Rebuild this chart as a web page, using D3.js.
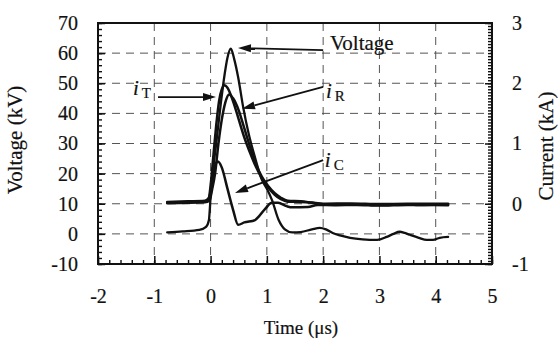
<!DOCTYPE html>
<html>
<head>
<meta charset="utf-8">
<script src="https://cdn.jsdelivr.net/npm/d3@7"></script>
<style>
  html, body { margin: 0; padding: 0; background: #fff; }
  svg { display: block; }
  text { font-family: "Liberation Serif", "Times New Roman", serif; fill: #111; stroke: #111; stroke-width: 0.2px; }
</style>
</head>
<body>
<svg id="chart" width="558" height="354"></svg>
<script>
// ---------------- data ----------------
const xTicks = [-2, -1, 0, 1, 2, 3, 4, 5];
const yTicksLeft = [-10, 0, 10, 20, 30, 40, 50, 60, 70];
const yTicksRight = [-1, 0, 1, 2, 3];
const xGrid = [-1, 0, 1, 2, 3, 4];
const yGrid = [0, 10, 20, 30, 40, 50, 60];

// Voltage [time (us), kV]
const voltage = [
  [-0.77, 0.5], [-0.5, 0.8], [-0.2, 1.3], [-0.08, 2.3], [-0.03, 4.5], [0.0, 12],
  [0.05, 22], [0.1, 30], [0.18, 43], [0.25, 53], [0.3, 58.5], [0.36, 61.5],
  [0.42, 58], [0.49, 52], [0.58, 42], [0.68, 33], [0.78, 26], [0.91, 18],
  [1.0, 15], [1.09, 11.3], [1.21, 4.6], [1.32, 1.5], [1.45, 0.5], [1.6, 0.6],
  [1.8, 1.5], [1.94, 2], [2.05, 1.5], [2.17, 0.3], [2.3, -0.5], [2.48, -1.3],
  [2.7, -1.8], [2.96, -2], [3.13, -1], [3.25, 0], [3.36, 0.7], [3.45, 0.3],
  [3.54, -0.3], [3.7, -1.3], [3.84, -2], [3.95, -2], [4.07, -1.3], [4.22, -1]
];
// Total current iT [time (us), kA]
const currentT = [
  [-0.77, 0.03], [-0.4, 0.04], [-0.1, 0.05], [-0.03, 0.10], [0.0, 0.30],
  [0.05, 0.80], [0.1, 1.30], [0.15, 1.70], [0.2, 1.90], [0.25, 1.965],
  [0.3, 1.925], [0.4, 1.70], [0.5, 1.40], [0.6, 1.10], [0.7, 0.85],
  [0.8, 0.625], [0.91, 0.425], [1.02, 0.275], [1.14, 0.15], [1.25, 0.075],
  [1.37, 0.035], [1.6, 0.03], [1.8, 0.015], [2.0, -0.01], [2.3, -0.015],
  [2.6, -0.01], [3.0, -0.02], [3.4, -0.01], [3.8, -0.02], [4.22, -0.01]
];
// Resistive current iR [time (us), kA]
const currentR = [
  [-0.77, 0.01], [-0.1, 0.025], [-0.02, 0.05], [0.03, 0.25], [0.08, 0.50],
  [0.14, 1.00], [0.2, 1.40], [0.26, 1.675], [0.33, 1.815], [0.4, 1.75],
  [0.5, 1.55], [0.6, 1.25], [0.7, 0.95], [0.8, 0.675], [0.91, 0.45],
  [1.02, 0.30], [1.14, 0.175], [1.25, 0.10], [1.37, 0.05], [1.6, 0.04],
  [1.8, 0.02], [2.0, 0.0], [2.5, 0.005], [3.0, -0.005], [3.5, 0.0], [4.22, 0.0]
];
// Capacitive current iC [time (us), kA]
const currentC = [
  [-0.77, 0.02], [-0.05, 0.04], [0.0, 0.20], [0.05, 0.50], [0.1, 0.675],
  [0.13, 0.70], [0.2, 0.60], [0.3, 0.25], [0.4, -0.10], [0.49, -0.35],
  [0.6, -0.31], [0.79, -0.27], [0.97, -0.085], [1.09, 0.015], [1.2, 0.015],
  [1.35, -0.04], [1.45, -0.06], [1.73, -0.055], [1.9, -0.02], [2.2, -0.025],
  [2.6, -0.02], [3.0, -0.03], [3.5, -0.02], [4.22, -0.025]
];

// annotations: label anchor and arrow (from -> to) in data units (time, kV)
const annotations = [
  { main: "Voltage", sub: "", label: [2.12, 61], from: [2.0, 61.0], to: [0.487, 61.7] },
  { main: "i", sub: "T", label: [-1.38, 46.1], from: [-0.934, 45.4], to: [0.096, 45.4] },
  { main: "i", sub: "R", label: [2.05, 45.1], from: [2.0, 48.8], to: [0.558, 41.5] },
  { main: "i", sub: "C", label: [2.03, 22.2], from: [2.0, 24.5], to: [0.434, 13.6] }
];

// ---------------- layout ----------------
const svg = d3.select("#chart");
const L = 98, R = 492, T = 23, B = 264;
const x = d3.scaleLinear().domain([-2, 5]).range([L, R]);
const y = d3.scaleLinear().domain([-10, 70]).range([B, T]);
const yR = d3.scaleLinear().domain([-1, 3]).range([B, T]);

// grid
const grid = svg.append("g").attr("stroke", "#555").attr("stroke-width", 1)
  .attr("stroke-dasharray", "8,6").attr("fill", "none");
grid.selectAll("line.v").data(xGrid).join("line")
  .attr("x1", d => x(d)).attr("x2", d => x(d)).attr("y1", T).attr("y2", B);
grid.selectAll("line.h").data(yGrid).join("line")
  .attr("x1", L).attr("x2", R).attr("y1", d => y(d)).attr("y2", d => y(d));

// minor ticks
function minor(axis, scale, vals, pos) {
  const g = svg.append("g").attr("transform", pos)
    .call(axis(scale).tickValues(vals).tickSizeInner(-4).tickSizeOuter(0).tickFormat(""));
  g.select(".domain").remove();
  g.selectAll("line").attr("stroke", "#111").attr("stroke-width", 1.4);
}
minor(d3.axisLeft, y, d3.range(-10, 70.01, 2), `translate(${L},0)`);
minor(d3.axisBottom, x, d3.range(-2, 5.001, 0.2), `translate(0,${B})`);
minor(d3.axisRight, yR, d3.range(-1, 3.001, 0.05), `translate(${R},0)`);

// major axes
const fs = "20px";
const gl = svg.append("g").attr("transform", `translate(${L},0)`)
  .call(d3.axisLeft(y).tickValues(yTicksLeft).tickSizeInner(-7).tickSizeOuter(0).tickPadding(20).tickFormat(d3.format("d")));
const gb = svg.append("g").attr("transform", `translate(0,${B})`)
  .call(d3.axisBottom(x).tickValues(xTicks).tickSizeInner(-8).tickSizeOuter(0).tickPadding(25).tickFormat(d3.format("d")));
const gr = svg.append("g").attr("transform", `translate(${R},0)`)
  .call(d3.axisRight(yR).tickValues(yTicksRight).tickSizeInner(-7).tickSizeOuter(0).tickPadding(20).tickFormat(d3.format("d")));
[gl, gb, gr].forEach(g => {
  g.select(".domain").remove();
  g.selectAll("line").attr("stroke", "#111").attr("stroke-width", 1.5);
  g.selectAll("text").attr("font-size", fs).attr("font-family", "Liberation Serif").attr("fill", "#111")
    .text(function () { return d3.select(this).text().replace("−", "-"); });
});

// frame
svg.append("rect").attr("x", L).attr("y", T).attr("width", R - L).attr("height", B - T)
  .attr("fill", "none").attr("stroke", "#111").attr("stroke-width", 2);

// curves
const lineV = d3.line().x(d => x(d[0])).y(d => y(d[1])).curve(d3.curveMonotoneX);
const lineI = d3.line().x(d => x(d[0])).y(d => yR(d[1])).curve(d3.curveMonotoneX);
const curves = svg.append("g").attr("fill", "none").attr("stroke", "#111")
  .attr("stroke-linejoin", "round").attr("stroke-linecap", "round");
curves.append("path").attr("d", lineI(currentC)).attr("stroke-width", 2.5);
curves.append("path").attr("d", lineI(currentR)).attr("stroke-width", 2.5);
curves.append("path").attr("d", lineI(currentT)).attr("stroke-width", 2.5);
curves.append("path").attr("d", lineV(voltage)).attr("stroke-width", 2.3);

// annotations
const ann = svg.append("g");
annotations.forEach(a => {
  const x1 = x(a.from[0]), y1 = y(a.from[1]), x2 = x(a.to[0]), y2 = y(a.to[1]);
  const ang = Math.atan2(y2 - y1, x2 - x1);
  const hl = 13, hw = 4;
  const bx = x2 - hl * Math.cos(ang), by = y2 - hl * Math.sin(ang);
  ann.append("line").attr("x1", x1).attr("y1", y1).attr("x2", bx).attr("y2", by)
    .attr("stroke", "#111").attr("stroke-width", 1.8);
  ann.append("path").attr("fill", "#111")
    .attr("d", `M${x2},${y2}L${bx + hw * Math.sin(ang)},${by - hw * Math.cos(ang)}L${bx - hw * Math.sin(ang)},${by + hw * Math.cos(ang)}Z`);
  const t = ann.append("text").attr("x", x(a.label[0])).attr("y", y(a.label[1]));
  if (a.sub) {
    t.append("tspan").attr("font-style", "italic").attr("font-size", "21px").text(a.main);
    t.append("tspan").attr("font-size", "15px").attr("dx", 3).attr("dy", 3).text(a.sub);
  } else {
    t.attr("font-size", "21px").text(a.main);
  }
});

// axis titles
svg.append("text").attr("transform", `translate(22,140) rotate(-90)`)
  .attr("text-anchor", "middle").attr("font-size", "21px").text("Voltage (kV)");
svg.append("text").attr("transform", `translate(553,146) rotate(-90)`)
  .attr("text-anchor", "middle").attr("font-size", "21px").text("Current (kA)");
svg.append("text").attr("x", (L + R) / 2 + 6).attr("y", 334)
  .attr("text-anchor", "middle").attr("font-size", "19px").text("Time (μs)");
</script>
</body>
</html>
